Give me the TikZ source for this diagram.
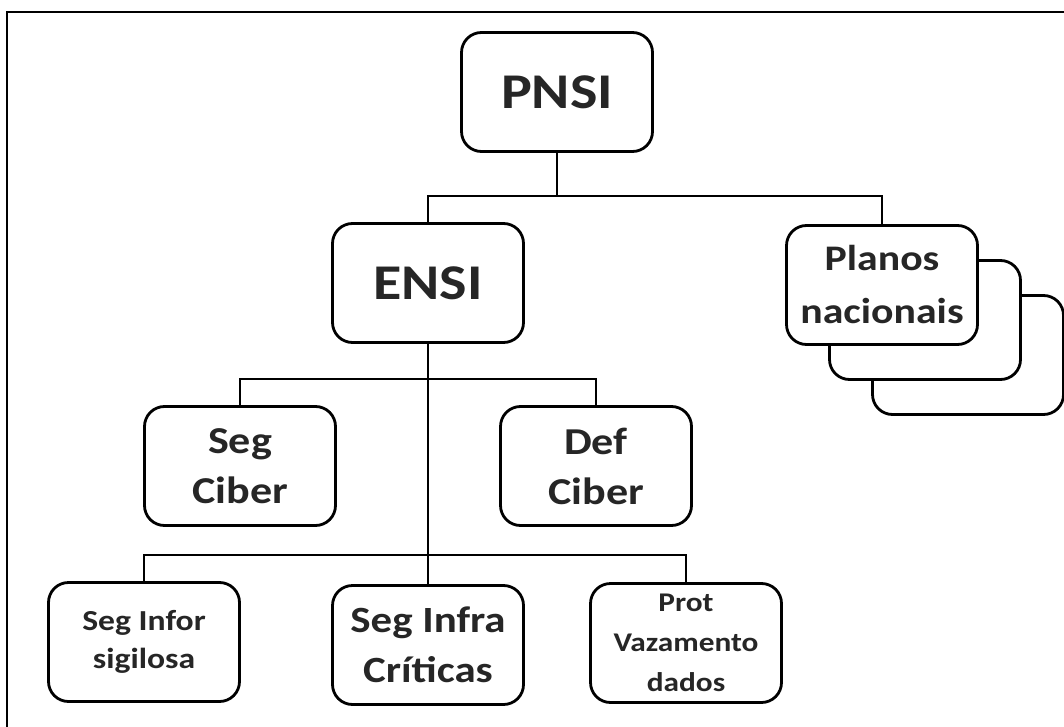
\documentclass[tikz,border=0pt]{standalone}
\usepackage{fontspec}
\setmainfont{Carlito}[FakeStretch=1.16]
\usetikzlibrary{shadows}

\begin{document}
\begin{tikzpicture}[x=1pt,y=-1pt,
		box/.style={draw,line width=2.8pt,rounded corners=20pt,fill=white,minimum width=191pt,minimum height=119pt,align=center,inner sep=0pt,text=black!85},
		link/.style={line width=2.6pt}]
		\useasboundingbox (0,0) rectangle (1064,727);
		\draw[line width=1.6pt] (7,727) -- (7,12) -- (1064,12);
		% top level
		\node[box,font=\bfseries\fontsize{50}{60}\selectfont] (pnsi) at (557,92) {PNSI};
		\node[box,font=\bfseries\fontsize{50}{60}\selectfont] (ensi) at (428,283) {ENSI};
		\node[box,font=\bfseries\fontsize{36}{53}\selectfont,
			copy shadow={shadow xshift=86pt,shadow yshift=-70pt,line width=2.8pt},
			copy shadow={shadow xshift=43pt,shadow yshift=-35pt,line width=2.8pt}] (planos) at (882,285) {Planos\\nacionais};
		% middle level
		\node[box,font=\bfseries\fontsize{38}{50}\selectfont] (segciber) at (240,466) {Seg\\Ciber};
		\node[box,font=\bfseries\fontsize{38}{50}\selectfont] (defciber) at (596,466) {Def\\Ciber};
		% bottom level
		\node[box,font=\bfseries\fontsize{29}{38}\selectfont] (seginfor) at (144,642) {Seg Infor\\sigilosa};
		\node[box,font=\bfseries\fontsize{37}{50}\selectfont] (seginfra) at (428,645) {Seg Infra\\Críticas};
		\node[box,font=\bfseries\fontsize{27}{40}\selectfont] (prot) at (686,643) {Prot\\Vazamento\\dados};
		% connectors
		\coordinate (bus1) at (557,196);
		\coordinate (bus2) at (428,379);
		\coordinate (bus3) at (428,555);
		\draw[link] (pnsi.south) -- (bus1);
		\draw[link] (ensi.north) |- (bus1) -| (planos.north);
		\draw[link] (ensi.south) -- (seginfra.north);
		\draw[link] (segciber.north) |- (bus2) -| (defciber.north);
		\draw[link] (seginfor.north) |- (bus3) -| (prot.north);
	\end{tikzpicture}
\end{document}
